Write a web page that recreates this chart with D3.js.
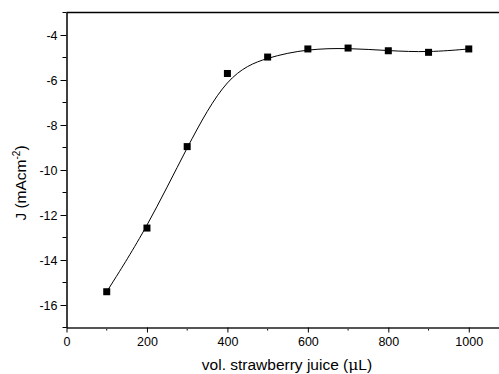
<!DOCTYPE html>
<html lang="en">
  <head>
    <meta charset="UTF-8" />
    <title>J vs vol. strawberry juice</title>
    <script src="https://d3js.org/d3.v7.min.js"></script>
    <style>
      body {
        margin: 0;
        background: #fff;
      }
      svg {
        display: block;
        font-family: "Liberation Sans", Arial, sans-serif;
      }
      .tick text {
        font-size: 12.5px;
        fill: #000;
      }
    </style>
  </head>
  <body>
    <div id="chart"></div>
    <script>
      // 읽어낸 데이터
      const volumes = [100, 200, 300, 400, 500, 600, 700, 800, 900, 1000];
      const current = [-15.41, -12.58, -8.96, -5.71, -4.98, -4.62, -4.58, -4.7, -4.77, -4.62];
      const xTicks = [0, 200, 400, 600, 800, 1000];
      const yTicks = [-16, -14, -12, -10, -8, -6, -4];

      const width = 499,
        height = 374;
      const margin = { top: 12.5, left: 66.5, bottom: 46.5 };
      const plotRight = 509;

      const svg = d3
        .select("#chart")
        .append("svg")
        .attr("width", width)
        .attr("height", height);

      const x = d3.scaleLinear().domain([0, 1100]).range([margin.left, plotRight]);
      const y = d3
        .scaleLinear()
        .domain([-17, -3])
        .range([height - margin.bottom, margin.top]);

      // 위쪽 테두리
      svg
        .append("line")
        .attr("x1", margin.left)
        .attr("x2", width)
        .attr("y1", margin.top)
        .attr("y2", margin.top)
        .attr("stroke", "#000")
        .attr("stroke-width", 1.3);

      // x축 보조 눈금
      const xMinor = d3.range(100, 1100, 200);
      svg
        .append("g")
        .selectAll("line")
        .data(xMinor)
        .join("line")
        .attr("x1", (d) => x(d))
        .attr("x2", (d) => x(d))
        .attr("y1", y(-17))
        .attr("y2", y(-17) + 3)
        .attr("stroke", "#000");

      const xAxis = svg
        .append("g")
        .attr("transform", `translate(0,${y(-17)})`)
        .call(
          d3
            .axisBottom(x)
            .tickValues(xTicks)
            .tickFormat((d) => String(d))
            .tickSize(5)
            .tickPadding(5)
            .tickSizeOuter(0)
        );
      xAxis.select(".domain").attr("stroke", "#555").attr("stroke-width", 2);
      xAxis.selectAll(".tick line").attr("stroke", "#000");

      // y축 보조 눈금
      const yMinor = d3.range(-17, -2, 2);
      svg
        .append("g")
        .selectAll("line")
        .data(yMinor)
        .join("line")
        .attr("x1", margin.left - 4)
        .attr("x2", margin.left)
        .attr("y1", (d) => y(d))
        .attr("y2", (d) => y(d))
        .attr("stroke", "#000");

      const yAxis = svg
        .append("g")
        .attr("transform", `translate(${margin.left},0)`)
        .call(
          d3
            .axisLeft(y)
            .tickValues(yTicks)
            .tickFormat((d) => String(d))
            .tickSize(6)
            .tickPadding(3)
            .tickSizeOuter(0)
        );
      yAxis.select(".domain").attr("stroke", "#000").attr("stroke-width", 1.5);

      // 곡선
      const line = d3
        .line()
        .x((d, i) => x(volumes[i]))
        .y((d) => y(d))
        .curve(d3.curveBasis);
      svg
        .append("path")
        .datum(current)
        .attr("d", line)
        .attr("fill", "none")
        .attr("stroke", "#000")
        .attr("stroke-width", 1);

      // 점
      svg
        .append("g")
        .selectAll("rect")
        .data(current)
        .join("rect")
        .attr("x", (d, i) => x(volumes[i]) - 3.5)
        .attr("y", (d) => y(d) - 3.5)
        .attr("width", 7)
        .attr("height", 7)
        .attr("fill", "#000");

      // 축 제목
      const xt = svg
        .append("text")
        .attr("x", 287)
        .attr("y", 369.5)
        .attr("text-anchor", "middle")
        .attr("font-size", 15.5);
      xt.append("tspan").text("vol. strawberry juice (");
      xt.append("tspan").attr("font-family", "DejaVu Serif, serif").text("μ");
      xt.append("tspan").text("L)");

      const yt = svg
        .append("text")
        .attr("transform", "translate(26,183) rotate(-90)")
        .attr("text-anchor", "middle")
        .attr("font-size", 15.5);
      yt.append("tspan").text("J (mAcm");
      yt.append("tspan").attr("font-size", 10).attr("dy", -6).text("-2");
      yt.append("tspan").attr("dy", 6).text(")");
    </script>
  </body>
</html>
